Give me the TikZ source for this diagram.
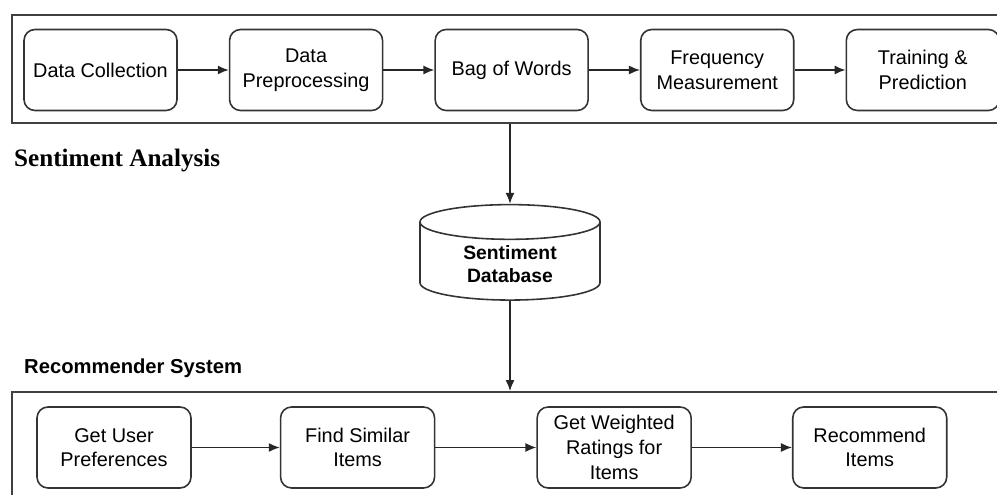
\documentclass[tikz,border=0pt]{standalone}
\usepackage{fontspec}
\setmainfont{Liberation Sans}
\newfontfamily\serifbold{Liberation Serif}
\usetikzlibrary{positioning,arrows.meta,shapes.geometric}

\tikzset{
  stage/.style={draw=black!80, line width=0.9pt, rounded corners=0.22cm, align=center,
    minimum width=3.06cm, minimum height=1.62cm, font=\fontsize{11.3}{14}\selectfont},
  group/.style={draw=black!75, line width=1.1pt, inner sep=0pt},
  flow/.style={->, >={Latex[length=2.2mm, width=1.8mm]}, line width=0.8pt, draw=black!85}
}

\begin{document}
\begin{tikzpicture}
    \useasboundingbox (0,0) rectangle (19.94,9.9);
    \clip (0,0) rectangle (19.94,9.9);

    % Sentiment analysis
    \node [group, minimum width=19.96cm, minimum height=2.16cm] (saframe) at (10.22,8.52) {};
    \node [stage] (collect) at (2.01,8.5) {Data Collection};
    \node [stage, right=1.02cm of collect] (prep) {Data\\Preprocessing};
    \node [stage, right=1.02cm of prep] (bow) {Bag of Words};
    \node [stage, right=1.02cm of bow] (freq) {Frequency\\Measurement};
    \node [stage, right=1.02cm of freq] (train) {Training \&\\Prediction};

    \draw[flow] (collect) -- (prep);
    \draw[flow] (prep) -- (bow);
    \draw[flow] (bow) -- (freq);
    \draw[flow] (freq) -- (train);

    \node [anchor=west, font=\serifbold\bfseries\fontsize{14.3}{16}\selectfont] (salabel) at (0.16,6.7) {Sentiment Analysis};

    % Database
    \node [cylinder, shape border rotate=90, aspect=0.33, draw=black!80, line width=0.9pt,
        minimum width=3.6cm, minimum height=1.86cm, align=center,
        font=\bfseries\fontsize{11}{13}\selectfont] (db) at (10.2,4.61) {Sentiment\\Database};

    \draw[flow] (db.north |- saframe.south) -- (db.north);

    % Recommender system
    \node [anchor=west, font=\bfseries\fontsize{11.5}{14}\selectfont] (rslabel) at (0.36,2.54) {Recommender System};
    \node [group, minimum width=19.96cm, minimum height=2.36cm] (rsframe) at (10.22,0.88) {};

    \draw[flow] (db.south) -- (db.south |- rsframe.north);

    \node [stage, minimum width=3.08cm] (prefs) at (2.28,0.95) {Get User\\Preferences};
    \node [stage, minimum width=3.08cm, right=1.76cm of prefs] (similar) {Find Similar\\Items};
    \node [stage, minimum width=3.08cm, right=2.02cm of similar] (weighted) {Get Weighted\\Ratings for\\Items};
    \node [stage, minimum width=3.08cm, right=2.0cm of weighted] (recommend) {Recommend\\Items};

    \draw[flow] (prefs) -- (similar);
    \draw[flow] (similar) -- (weighted);
    \draw[flow] (weighted) -- (recommend);
\end{tikzpicture}
\end{document}
